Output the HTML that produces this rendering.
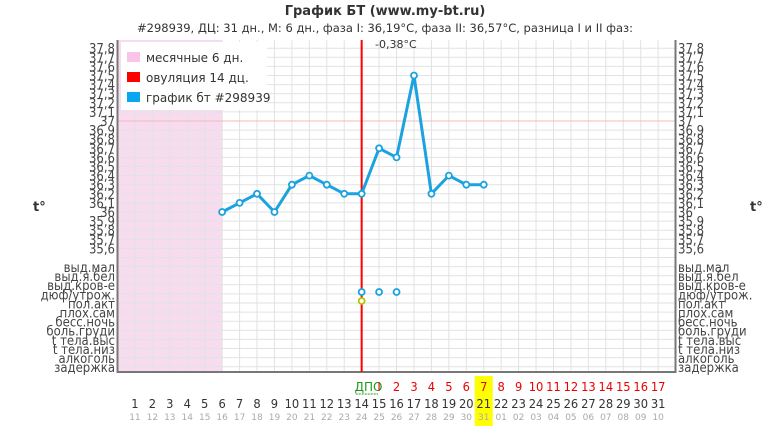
<!DOCTYPE html>
<html><head><meta charset="utf-8"><style>
body{margin:0;background:#fff;width:770px;height:432px;overflow:hidden}
svg{display:block;font-family:"DejaVu Sans","Liberation Sans",sans-serif}
</style></head><body>
<svg id="s" width="770" height="432" xmlns="http://www.w3.org/2000/svg"></svg>
<script>
const s=document.getElementById('s');let h='';
const L=117.5,R=675.5,T=40,B=372,st=17.44;
const X=d=>L+d*st, Y=v=>212-(v-36)*91;
h+=`<text x="385" y="15" text-anchor="middle" font-size="13" font-weight="bold" fill="#333">График БТ (www.my-bt.ru)</text>`;
h+=`<text x="385" y="32" text-anchor="middle" font-size="11.5" fill="#333">#298939, ДЦ: 31 дн., М: 6 дн., фаза I: 36,19°C, фаза II: 36,57°C, разница I и II фаз:</text>`;
h+=`<rect x="${L}" y="${T}" width="${X(6)-L}" height="${B-T}" fill="#f7dcef"/>`;
for(let y=T+9.1*0.9;y<B;y+=9.1)h+=`<line x1="${L}" x2="${R}" y1="${y}" y2="${y}" stroke="#e2e2e2"/>`;
for(let d=1;d<=31;d++)h+=`<line x1="${X(d)}" x2="${X(d)}" y1="${T}" y2="${B}" stroke="#e2e2e2"/>`;
h+=`<line x1="${L}" x2="${R}" y1="121" y2="121" stroke="#f6b8b8"/>`;
h+=`<path d="M${L} ${T}V${B}H${R}V${T}" fill="none" stroke="#777" stroke-width="2"/>`;
const temps=["37,8","37,7","37,6","37,5","37,4","37,3","37,2","37,1","37","36,9","36,8","36,7","36,6","36,5","36,4","36,3","36,2","36,1","36","35,9","35,8","35,7","35,6"];
const sy=["выд.мал","выд.я.бел","выд.кров-е","дюф/утрож.","пол.акт","плох.сам","бесс.ночь","боль.груди","t тела.выс","t тела.низ","алкоголь","задержка"];
let labs=temps.map((t,i)=>[t,Y(37.8-i*0.1)+5]).concat(sy.map((t,i)=>[t,272+i*9.1]));
labs.forEach(([t,y])=>{h+=`<text transform="translate(115 ${y}) scale(0.9 1)" text-anchor="end" font-size="13" fill="#444">${t}</text>`;h+=`<text transform="translate(678 ${y}) scale(0.9 1)" font-size="13" fill="#444">${t}</text>`;});
h+=`<text x="33" y="211" font-size="13" font-weight="bold" fill="#333">t°</text><text x="750" y="211" font-size="13" font-weight="bold" fill="#333">t°</text>`;
h+=`<rect x="121" y="42" width="146" height="68" fill="#fff"/>`;
[["#fbc3e8","месячные 6 дн."],["#f00","овуляция 14 дц."],["#0aa6ef","график бт #298939"]].forEach(([c,t],i)=>{
h+=`<rect x="127" y="${52+i*20}" width="13" height="10" fill="${c}"/><text x="146" y="${62+i*20}" font-size="12" fill="#333">${t}</text>`;});
h+=`<rect x="${X(21)-9}" y="376" width="18" height="50" fill="#ffff00"/>`;
h+=`<line x1="${X(14)}" x2="${X(14)}" y1="${T}" y2="${B}" stroke="#f00" stroke-width="2"/>`;
h+=`<text x="375" y="48" font-size="11" fill="#333">-0,38°C</text>`;
const data=[36.0,36.1,36.2,36.0,36.3,36.4,36.3,36.2,36.2,36.7,36.6,37.5,36.2,36.4,36.3,36.3];
let p=data.map((v,i)=>`${X(6+i)},${Y(v)}`).join(' ');
h+=`<polyline points="${p}" fill="none" stroke="#1aa3e0" stroke-width="3"/>`;
data.forEach((v,i)=>h+=`<circle cx="${X(6+i)}" cy="${Y(v)}" r="3" fill="#fff" stroke="#1aa3e0" stroke-width="1.8"/>`);
[14,15,16].forEach(d=>h+=`<circle cx="${X(d)}" cy="292" r="3" fill="#fff" stroke="#1aa3e0" stroke-width="1.8"/>`);
h+=`<circle cx="${X(14)}" cy="301" r="3" fill="#fff" stroke="#b5c400" stroke-width="1.8"/>`;
h+=`<text x="${X(14)-7}" y="391" font-size="12" fill="#1a9a1a">ДПО</text><line x1="${X(14)-6}" x2="${X(15)-1}" y1="394" y2="394" stroke="#1a9a1a" stroke-dasharray="2,1"/>`;
for(let k=1;k<=17;k++)h+=`<text transform="translate(${X(14+k)} 391) scale(0.92 1)" text-anchor="middle" font-size="12.5" fill="#e00">${k==1?'I':k}</text>`;
for(let d=1;d<=31;d++){h+=`<text transform="translate(${X(d)} 408) scale(0.92 1)" text-anchor="middle" font-size="12.5" fill="#333">${d}</text>`;
let dt=d+10;if(dt>31)dt-=31;h+=`<text x="${X(d)}" y="420" text-anchor="middle" font-size="9" fill="#aaa">${String(dt).padStart(2,'0')}</text>`;}
s.innerHTML=h;
</script>
</body></html>
